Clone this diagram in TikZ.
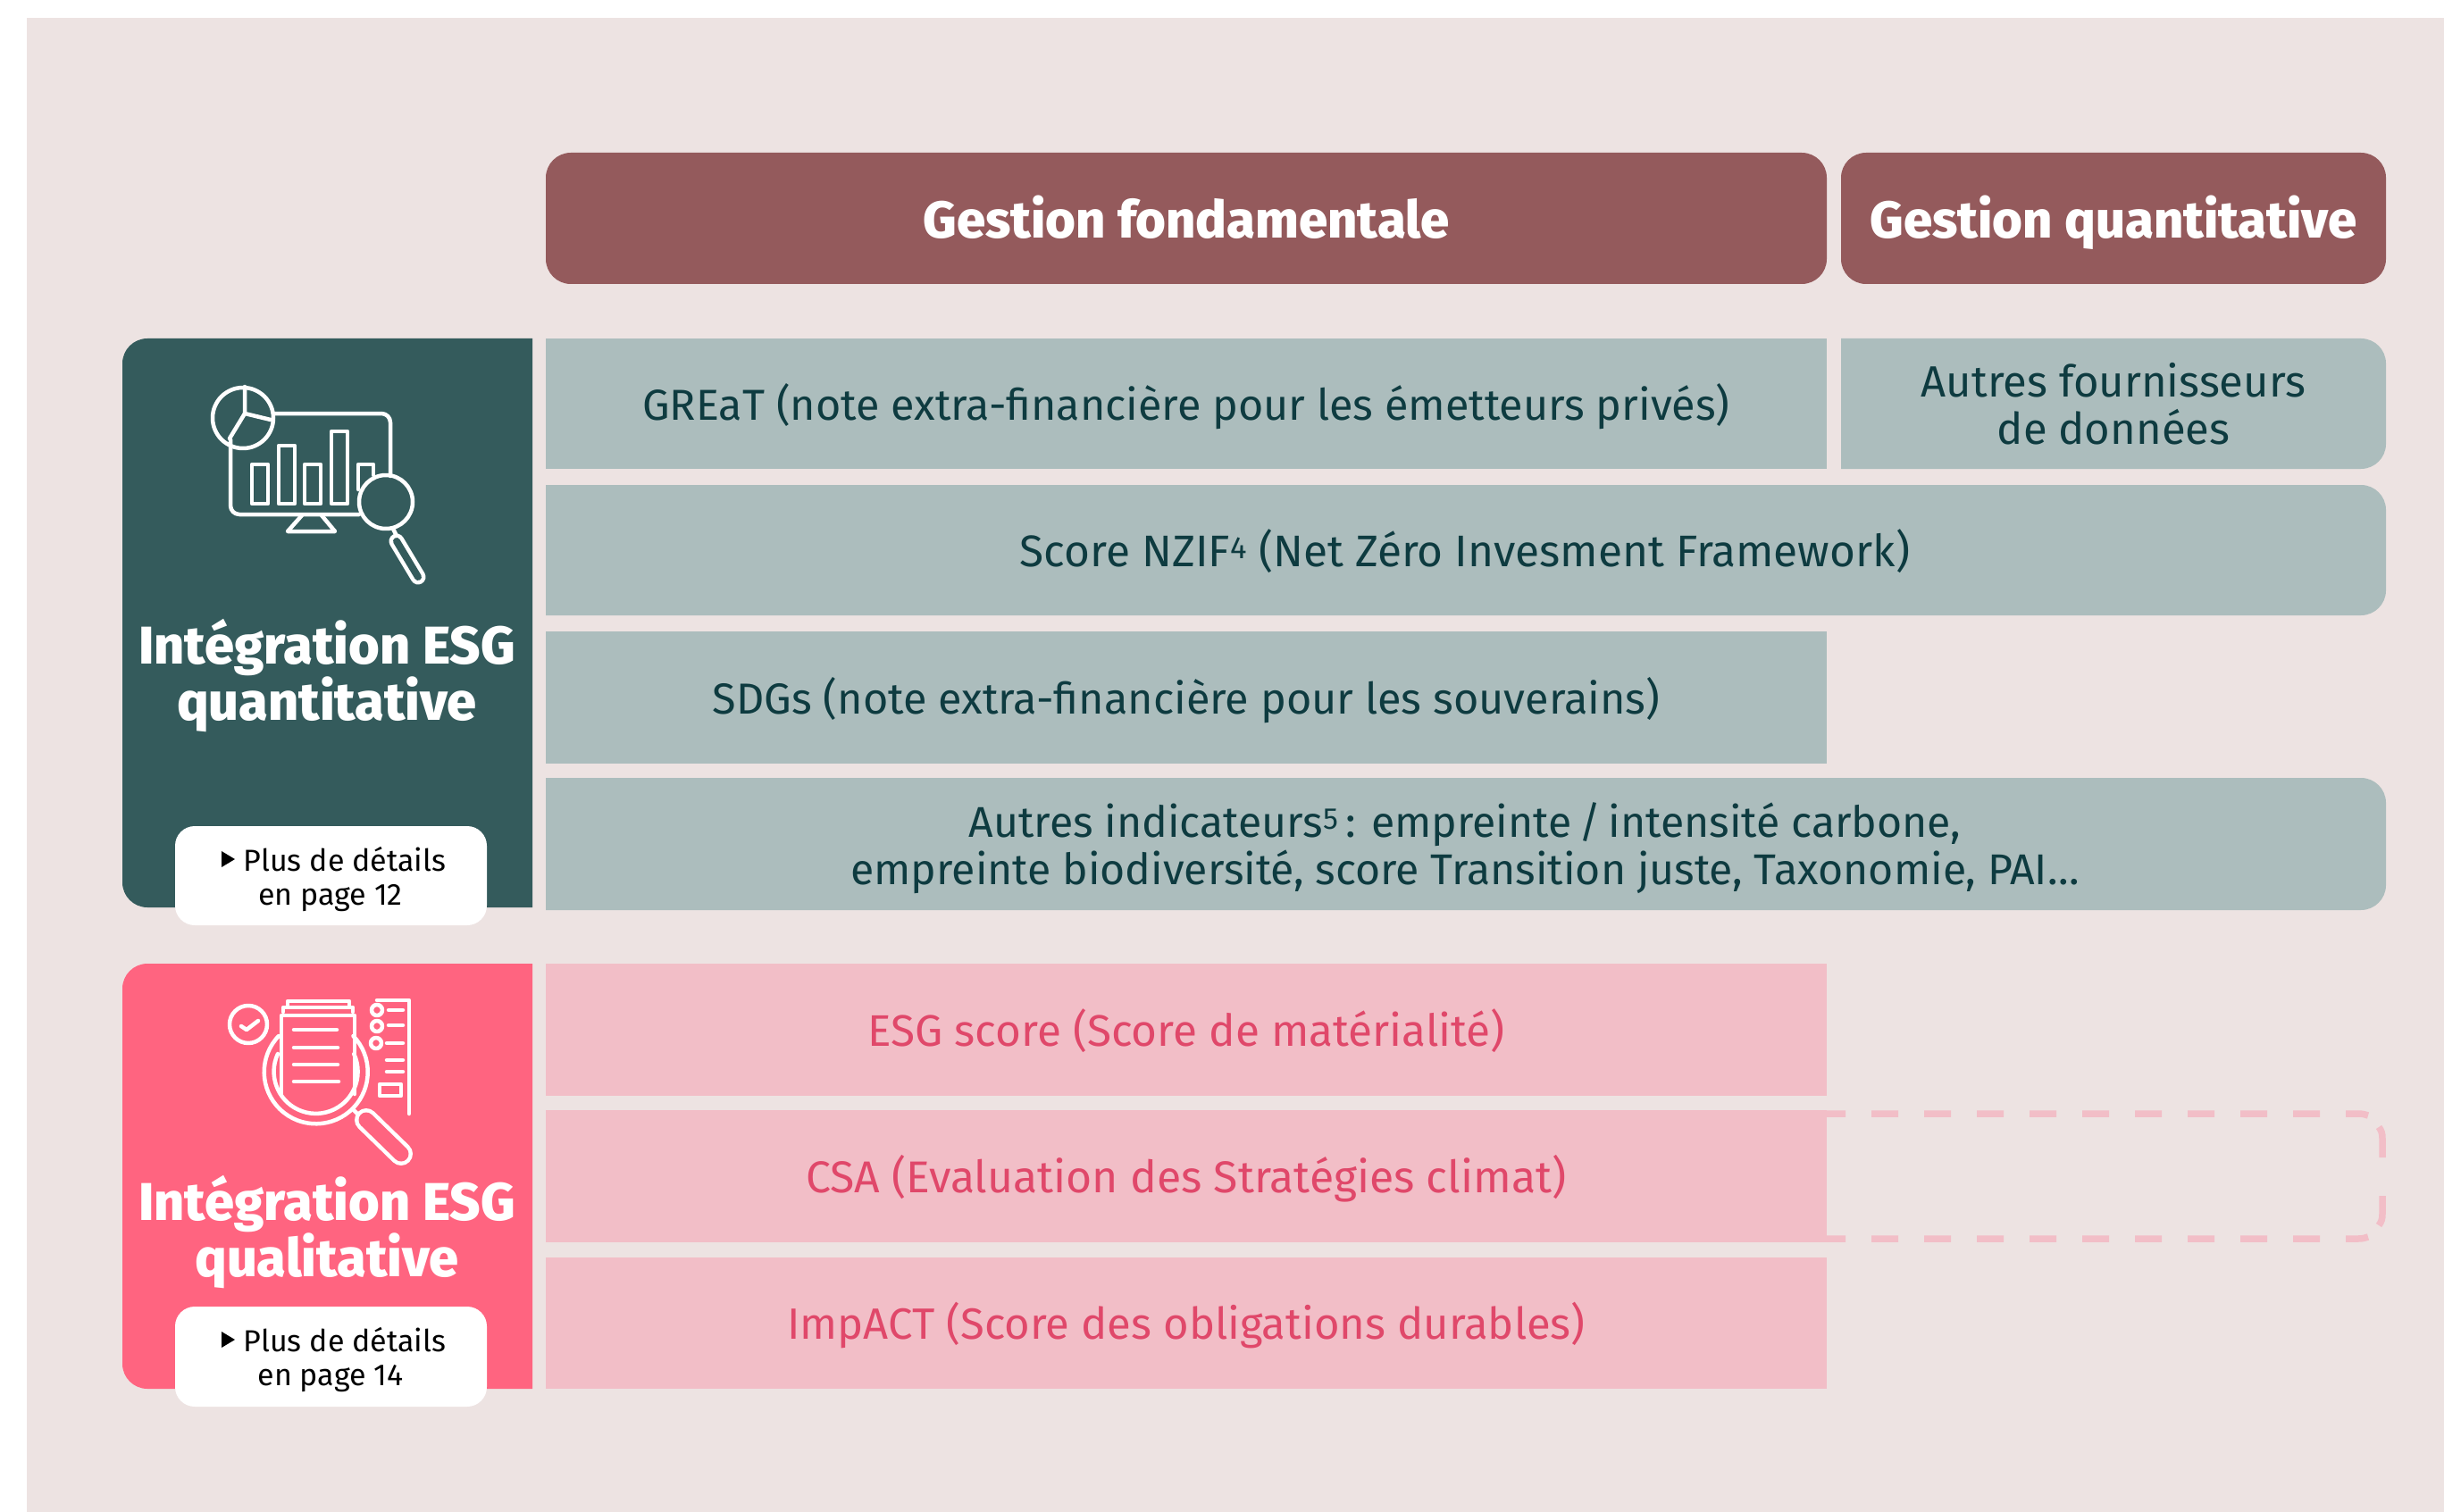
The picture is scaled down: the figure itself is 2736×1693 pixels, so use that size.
\documentclass[tikz,border=0pt]{standalone}
\usepackage{fontspec}
\setmainfont{Fira Sans}[BoldFont={Fira Sans ExtraBold}]
\definecolor{bgc}{HTML}{EDE3E2}
\definecolor{headc}{HTML}{945A5C}
\definecolor{greenc}{HTML}{345B5C}
\definecolor{tealrow}{HTML}{ACBDBD}
\definecolor{tealtxt}{HTML}{0E3B40}
\definecolor{pinkc}{HTML}{FF6480}
\definecolor{pinkrow}{HTML}{F2BEC7}
\definecolor{pinktxt}{HTML}{E0486A}
\newcommand{\rightround}[5]{\fill[#1,rounded corners=0pt] (#2,#3) -- (#4-30,#3) [rounded corners=28pt] -- (#4,#3) -- (#4,#5) [rounded corners=0pt] -- (#4-30,#5) -- (#2,#5) -- cycle;}
\newcommand{\leftround}[5]{\fill[#1,rounded corners=0pt] (#4,#3) -- (#2+30,#3) [rounded corners=28pt] -- (#2,#3) -- (#2,#5) [rounded corners=0pt] -- (#2+30,#5) -- (#4,#5) -- cycle;}
\tikzset{
  x=1pt,y=-1pt,
  txt/.style={inner sep=0pt,outer sep=0pt,anchor=center,align=center,text height=0.75em,text depth=0.25em},
  headtxt/.style={txt,text=white,font=\fontsize{58}{58}\selectfont\bfseries},
  sidetxt/.style={txt,text=white,font=\fontsize{59.5}{63}\selectfont\bfseries},
  rowtxt/.style={txt,text=tealtxt,font=\fontsize{#1}{53}\selectfont},
  pinktext/.style={txt,text=pinktxt,font=\fontsize{#1}{53}\selectfont},
  linktxt/.style={txt,text=black,font=\fontsize{34}{38}\selectfont},
  whitebox/.style={fill=white,rounded corners=22pt},
  icon/.style={draw=white,line width=4.5pt,line cap=round,line join=round},
  dashbox/.style={draw=pinkrow,line width=7.5pt,dash pattern=on 30pt off 29pt},
  solidbox/.style={draw=pinkrow,line width=7.5pt},
}
\begin{document}
\begin{tikzpicture}
\useasboundingbox (0,0) rectangle (2736,1693);
\fill[bgc] (30,20) rectangle (2736,1693);
% headers
\fill[headc,rounded corners=28pt] (611,171) rectangle (2045,318);
\fill[headc,rounded corners=28pt] (2061,171) rectangle (2671,318);
\node[headtxt] (h1) at (1328,264) {Gestion fondamentale};
\node[headtxt] (h2) at (2366,264) {Gestion quantitative};
% teal rows
\leftround{greenc}{137}{379}{596}{1016}
\fill[tealrow] (611,379) rectangle (2045,525);
\rightround{tealrow}{2061}{379}{2671}{525}
\rightround{tealrow}{611}{543}{2671}{689}
\fill[tealrow] (611,707) rectangle (2045,855);
\rightround{tealrow}{611}{871}{2671}{1019}
\node[rowtxt=48.5] (r1) at (1328,468) {GREaT (note extra-financière pour les émetteurs privés)};
\node[rowtxt=49] (r1b) at (2366,495) {Autres fournisseurs\\de données};
\node[rowtxt=49.6] (r2) at (1640,632) {Score NZIF\textsuperscript{4} (Net Zéro Invesment Framework)};
\node[rowtxt=48.6] (r3) at (1328,797) {SDGs (note extra-financière pour les souverains)};
\node[rowtxt=48.2] (r4) at (1640,988) {Autres indicateurs\textsuperscript{5}\,: empreinte\,/\,intensité carbone,\\empreinte biodiversité, score Transition juste, Taxonomie, PAI…};
% pink rows
\leftround{pinkc}{137}{1079}{596}{1555}
\fill[pinkrow] (611,1079) rectangle (2045,1227);
\fill[pinkrow] (611,1243) rectangle (2045,1391);
\fill[pinkrow] (611,1408) rectangle (2045,1555);
\node[pinktext=49.5] (p1) at (1328,1169) {ESG score (Score de matérialité)};
\node[pinktext=49.9] (p2) at (1328,1333) {CSA (Evaluation des Stratégies climat)};
\node[pinktext=49] (p3) at (1328,1497) {ImpACT (Score des obligations durables)};
% dashed box
\draw[dashbox] (2036,1247) -- (2640,1247) .. controls (2645,1247) and (2648,1248) .. (2651,1249);
\draw[dashbox] (2036,1387) -- (2640,1387) .. controls (2645,1387) and (2648,1386) .. (2651,1385);
\draw[solidbox] (2663,1262) .. controls (2666,1266) and (2667,1269) .. (2667,1275) -- (2667,1296);
\draw[solidbox] (2663,1372) .. controls (2666,1368) and (2667,1365) .. (2667,1359) -- (2667,1339);
% side titles
\node[sidetxt] (s1) at (366,804) {Intégration ESG\\quantitative};
\node[sidetxt] (s2) at (366,1427) {Intégration ESG\\qualitative};
% white link boxes
\fill[whitebox] (196,925) rectangle (545,1036);
\fill[whitebox] (196,1463) rectangle (545,1575);
\fill[black] (248,953) -- (263,962) -- (248,971) -- cycle;
\fill[black] (248,1491) -- (263,1500) -- (248,1509) -- cycle;
\node[linktxt] (l1) at (370,1011) {\hspace*{32pt}Plus de détails\\en page 12};
\node[linktxt] (l2) at (370,1549) {\hspace*{32pt}Plus de détails\\en page 14};
% icon 1
\draw[icon] (272,468) circle (34);
\draw[icon] (274,433) -- (274,463) -- (303,470);
\draw[icon] (274,463) -- (257,491);
\draw[icon,rounded corners=10pt] (307,463) -- (437,463) -- (437,533);
\draw[icon,rounded corners=10pt] (258,492) -- (258,576) -- (402,576);
\foreach \a/\b/\c in {282/300/520,312/330/499,341/359/520,371/389/483}
  \draw[icon] (\a,\c) rectangle (\b,564);
\draw[icon] (401,548) -- (401,520) -- (418,520) -- (418,532);
\draw[icon] (338,577) -- (322,595) -- (375,595) -- (360,577);
\draw[icon] (432,562) circle (30);
\draw[icon] (440,592) -- (444,600);
\draw[icon,line width=17pt] (444,606) -- (468,646);
\draw[greenc,line width=8pt,line cap=round] (444,606) -- (468,646);
% icon 2
\draw[icon] (278,1147) circle (21);
\draw[icon] (270,1149) -- (276,1153) -- (289,1143);
\draw[icon] (317,1133) -- (317,1128) -- (395,1128) -- (395,1133);
\draw[icon] (322,1127) -- (322,1121) -- (391,1121) -- (391,1127);
\draw[icon] (312,1160) arc[start angle=224,end angle=-44,radius=58];
\draw[icon] (315,1225) -- (315,1137) -- (397,1137) -- (397,1225);
\draw[icon] (311,1180) arc[start angle=205,end angle=-25,radius=47];
\foreach \a/\b in {1153/377,1173/378,1192/378,1211/379}
  \draw[icon] (329,\a) -- (\b,\a);
\foreach \p/\q in {422/1131,422/1149,421/1168}
  \draw[icon] (\p,\q) circle (6);
\foreach \a/\b in {435/1131,435/1148,433/1168,433/1187,433/1200}
  \draw[icon] (\a,\b) -- (451,\b);
\draw[icon] (425,1214) rectangle (449,1227);
\draw[icon] (422,1120) -- (458,1120) -- (458,1247);
\draw[icon] (395,1242) -- (403,1250);
\draw[icon,line width=26pt] (410,1254) -- (449,1292);
\draw[pinkc,line width=17pt,line cap=round] (410,1254) -- (449,1292);
\end{tikzpicture}
\end{document}
